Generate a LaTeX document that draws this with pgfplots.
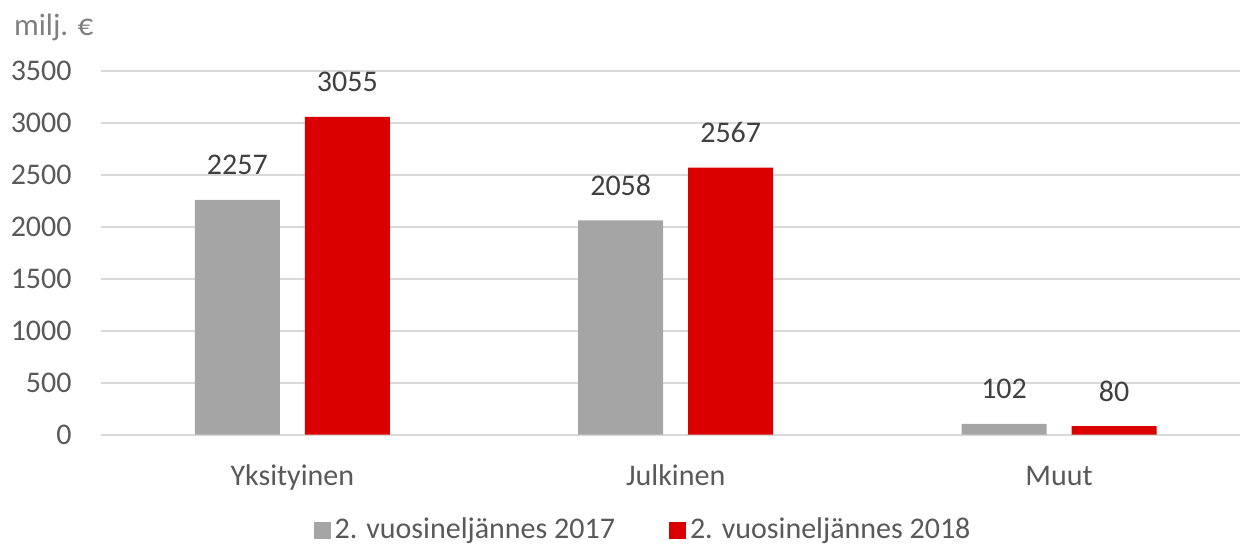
\documentclass[border=0pt]{standalone}
\usepackage{pgfplots}
\pgfplotsset{compat=1.18}
\usepackage{fontspec}
\setmainfont{Carlito}
\definecolor{barGray}{HTML}{A5A5A5}
\definecolor{barRed}{HTML}{DA0000}
\definecolor{gridGray}{HTML}{D9D9D9}
\definecolor{txtGray}{HTML}{595959}
\definecolor{lblGray}{HTML}{404040}
\definecolor{unitGray}{HTML}{7F7F7F}
\begin{document}
\begin{tikzpicture}
\fontsize{15}{18}\selectfont
\path[use as bounding box] (-50.35pt,217.25pt) rectangle (569.65pt,-56.25pt);
\begin{axis}[
  scale only axis,
  width=569.65pt, height=182pt,
  xmin=-0.5, xmax=2.472,
  ymin=0, ymax=3500,
  ybar,
  bar width=42.5pt,
  xtick={0,1,2},
  xticklabels={Yksityinen,Julkinen,Muut},
  ytick={0,500,...,3500},
  major tick length=0pt,
  axis line style={draw=none},
  ymajorgrids,
  major grid style={color=gridGray, line width=1pt},
  /pgf/number format/assume math mode=true,
  /pgf/number format/1000 sep={},
  ticklabel style={font=\fontsize{15}{18}\selectfont, text=txtGray},
  xticklabel style={anchor=base, inner sep=0pt, yshift=-25.25pt},
  yticklabel style={anchor=east, inner sep=0pt, xshift=-14.35pt},
  nodes near coords,
  nodes near coords style={font=\fontsize{15}{18}\selectfont, text=lblGray, anchor=base, inner sep=0pt, yshift=12.5pt},
  legend columns=2,
  legend style={draw=none, fill=none, at={(0.4769,-0.2624)}, anchor=center,
    font=\fontsize{15}{18}\selectfont, text=txtGray,
    /tikz/every even column/.append style={column sep=25pt},
    inner sep=0pt},
  legend image code/.code={\fill[#1] (0pt,-4.25pt) rectangle (8.5pt,4.25pt);},
  clip=false,
]
\addplot[fill=barGray, draw=none, bar shift=-27.5pt] coordinates {(0,2257) (1,2058) (2,102)};
\addplot[fill=barRed, draw=none, bar shift=27.5pt] coordinates {(0,3055) (1,2567) (2,80)};
\legend{2. vuosineljännes 2017, 2. vuosineljännes 2018}
\end{axis}
\node[anchor=base west, inner sep=0pt, text=unitGray, font=\fontsize{15.5}{18}\selectfont] at (-43.5pt,199.25pt) {milj. €};
\end{tikzpicture}
\end{document}
